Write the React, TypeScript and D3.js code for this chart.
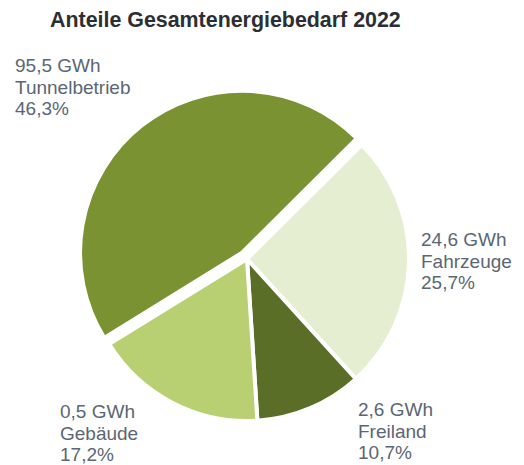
import React from "react";
import * as d3 from "d3";

const categories = ["Tunnelbetrieb", "Fahrzeuge", "Freiland", "Gebäude"];
const energy = ["95,5 GWh", "24,6 GWh", "2,6 GWh", "0,5 GWh"];
const shares = [46.3, 25.7, 10.7, 17.2];
const shareLabels = ["46,3%", "25,7%", "10,7%", "17,2%"];
const colors = ["#7a9232", "#e5eed0", "#5a6e27", "#b8d071"];
const explode = [8, 0, 0, 0];
const labelPos: [number, number][] = [
  [15, 72],
  [421, 246],
  [358, 416],
  [60, 418],
];

const W = 524;
const H = 465;
const cx = 247;
const cy = 259;
const R = 162;

export default function App() {
  const pie = d3
    .pie<number>()
    .sort(null)
    .value((d) => d)
    .startAngle((-121.7 * Math.PI) / 180)
    .endAngle(((360 - 121.7) * Math.PI) / 180);
  const arcs = pie(shares);
  const arcGen = d3.arc<d3.PieArcDatum<number>>().innerRadius(0).outerRadius(R);
  const font = "'Liberation Sans', Arial, Helvetica, sans-serif";
  return (
    <svg
      width={W}
      height={H}
      style={{ position: "absolute", left: 0, top: 0, background: "#fff" }}
    >
      <text
        x={50}
        y={27}
        fontFamily={font}
        fontWeight="bold"
        fontSize={21.4}
        fill="#2b2f33"
      >
        Anteile Gesamtenergiebedarf 2022
      </text>
      <g transform={`translate(${cx},${cy})`}>
        {arcs.map((a, i) => {
          const mid = (a.startAngle + a.endAngle) / 2;
          const dx = Math.sin(mid) * explode[i];
          const dy = -Math.cos(mid) * explode[i];
          return (
            <path
              key={categories[i]}
              d={arcGen(a) || ""}
              transform={`translate(${dx},${dy})`}
              fill={colors[i]}
              stroke="#fff"
              strokeWidth={4}
              strokeLinejoin="round"
            />
          );
        })}
      </g>
      {categories.map((c, i) => (
        <text
          key={c}
          x={labelPos[i][0]}
          y={labelPos[i][1]}
          fontFamily={font}
          fontSize={19}
          fill="#5b6674"
        >
          <tspan x={labelPos[i][0]} dy={0}>
            {energy[i]}
          </tspan>
          <tspan x={labelPos[i][0]} dy={21.6}>
            {c}
          </tspan>
          <tspan x={labelPos[i][0]} dy={21.6}>
            {shareLabels[i]}
          </tspan>
        </text>
      ))}
    </svg>
  );
}
